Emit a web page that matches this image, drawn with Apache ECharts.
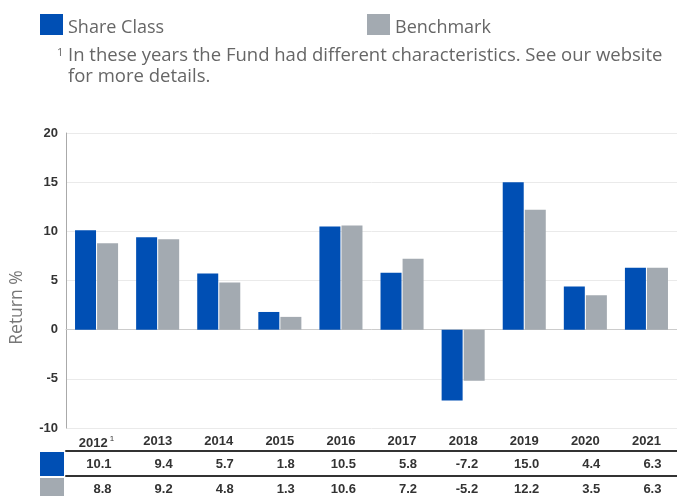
<!DOCTYPE html>
<html>
<head>
<meta charset="utf-8">
<script src="https://cdn.jsdelivr.net/npm/echarts@6/dist/echarts.min.js"></script>
<style>
  html, body { margin: 0; padding: 0; background: #fff; }
  #chart { width: 677px; height: 496px; }
</style>
</head>
<body>
<div id="chart"></div>
<script>
// values
const years = ['2012', '2013', '2014', '2015', '2016', '2017', '2018', '2019', '2020', '2021'];
const footnoted = ['2012'];
const shareClass = [10.1, 9.4, 5.7, 1.8, 10.5, 5.8, -7.2, 15.0, 4.4, 6.3];
const benchmark = [8.8, 9.2, 4.8, 1.3, 10.6, 7.2, -5.2, 12.2, 3.5, 6.3];
const yTicks = { min: -10, max: 20, interval: 5 };

const BLUE = '#004fb4';
const GREY = '#a3aab1';
const font = 'Liberation Sans, Arial, sans-serif';
const textFont = 'Open Sans, sans-serif';

const chart = echarts.init(document.getElementById('chart'), null, { renderer: 'canvas' });

// a table row is just another x axis under the plot, its line is the row border
function tableAxis(values, offset) {
  return {
    type: 'category',
    data: values.map(v => v.toFixed(1)),
    position: 'bottom',
    offset: offset,
    axisLine: { show: true, lineStyle: { color: '#333', width: 2 } },
    axisTick: { show: false },
    axisLabel: {
      margin: 7,
      interval: 0,
      formatter: v => '{v|' + v + '}',
      rich: {
        v: { width: 30, align: 'right', fontFamily: font, fontWeight: 'bold', fontSize: 13, color: '#333' }
      }
    }
  };
}

function legendAt(left, name) {
  return {
    left: left, top: 14, padding: 0, itemWidth: 23, itemHeight: 21, icon: 'rect',
    data: [name],
    formatter: n => '{t|' + n + '}',
    textStyle: {
      rich: { t: { fontFamily: textFont, fontSize: 18, color: '#666', padding: [7, 0, 0, 0] } }
    }
  };
}

chart.setOption({
  animation: false,
  legend: [legendAt(40, 'Share Class'), legendAt(367, 'Benchmark')],
  title: {
    left: 68, top: 45, padding: 0,
    text: 'In these years the Fund had different characteristics. See our website\nfor more details.',
    textStyle: { fontFamily: textFont, fontSize: 18.5, fontWeight: 'normal', color: '#666', lineHeight: 21 }
  },
  graphic: [
    { type: 'text', left: 57, top: 47, style: { text: '1', fontFamily: textFont, fontSize: 11, fill: '#666' } },
    { type: 'rect', left: 40, top: 452, shape: { width: 24, height: 24 }, style: { fill: BLUE } },
    { type: 'rect', left: 40, top: 478, shape: { width: 24, height: 18 }, style: { fill: GREY } }
  ],
  grid: { left: 64, right: 0, top: 133, bottom: 68 },
  xAxis: [
    {
      type: 'category',
      data: years,
      axisLine: { show: true, lineStyle: { color: '#ccc' } },
      axisTick: { show: false },
      axisLabel: {
        margin: 7,
        interval: 0,
        formatter: v => footnoted.includes(v) ? '{y|' + v + '}{s|1}' : '{y|' + v + '}',
        rich: {
          y: { fontFamily: font, fontWeight: 'bold', fontSize: 13, color: '#333' },
          s: { fontFamily: font, fontSize: 8, color: '#333', verticalAlign: 'top', padding: [0, 0, 8, 2] }
        }
      }
    },
    tableAxis(shareClass, 23),
    tableAxis(benchmark, 48)
  ],
  yAxis: {
    type: 'value',
    min: yTicks.min, max: yTicks.max, interval: yTicks.interval,
    name: 'Return %',
    nameLocation: 'middle',
    nameGap: 40,
    nameRotate: 90,
    nameTextStyle: { fontFamily: textFont, fontSize: 17.5, color: '#777', padding: [0, 54, 0, 0] },
    axisLine: { show: true, lineStyle: { color: '#aaa' } },
    axisTick: { show: false },
    axisLabel: { margin: 8, fontFamily: font, fontWeight: 'bold', fontSize: 13, color: '#333' },
    splitLine: { lineStyle: { color: '#eaeaea' } }
  },
  series: [
    {
      name: 'Share Class', type: 'bar', data: shareClass,
      barWidth: 21, barGap: '5%',
      itemStyle: { color: BLUE }
    },
    {
      name: 'Benchmark', type: 'bar', data: benchmark,
      barWidth: 21,
      itemStyle: { color: GREY }
    }
  ]
});
</script>
</body>
</html>
